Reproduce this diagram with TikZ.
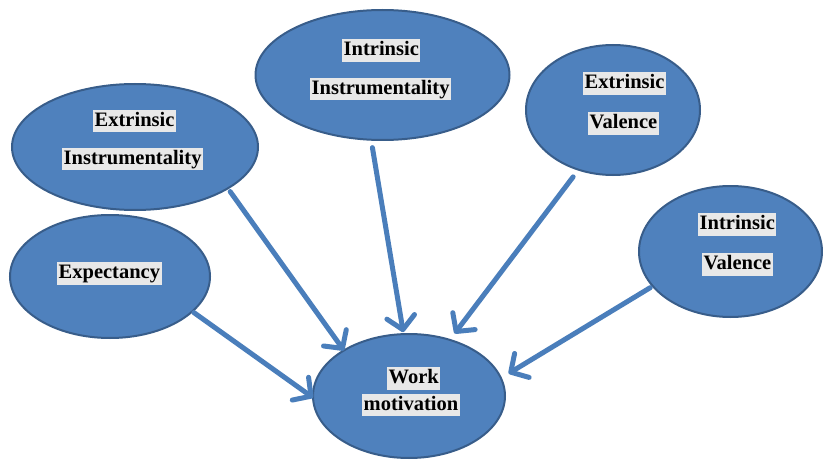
\documentclass[tikz,border=0pt]{standalone}
\usepackage{fontspec}
\setmainfont{Liberation Serif}
\usetikzlibrary{shapes.geometric,arrows.meta}
\definecolor{ellfill}{RGB}{79,129,189}
\definecolor{ellline}{RGB}{56,93,138}
\definecolor{arrcol}{RGB}{74,126,187}
\definecolor{boxgray}{RGB}{232,232,232}
\begin{document}
\begin{tikzpicture}[x=1pt,y=1pt,
 bubble/.style={ellipse, draw=ellline, fill=ellfill, line width=2pt, inner sep=0pt, outer sep=0pt},
 lbl/.style={fill=boxgray, anchor=west, inner xsep=1.5pt, inner ysep=1.5pt, text height=15pt, text depth=4.5pt, font=\bfseries\fontsize{20.5}{24}\selectfont},
 arr/.style={draw=arrcol, line width=5pt, line cap=round, -{Straight Barb[round, length=13pt, width=28pt]}}]
\useasboundingbox (0,0) rectangle (823,459);
% ellipses
\node[bubble, minimum width=246pt, minimum height=126pt] (ei) at (135,312) {};
\node[bubble, minimum width=254pt, minimum height=130pt] (ii) at (382.5,384) {};
\node[bubble, minimum width=174pt, minimum height=130pt] (ev) at (613,349) {};
\node[bubble, minimum width=183pt, minimum height=131pt] (iv) at (730.5,207.5) {};
\node[bubble, minimum width=200pt, minimum height=123pt] (ex) at (110,182.5) {};
\node[bubble, minimum width=192pt, minimum height=124pt] (wm) at (409,63) {};
% labels
\node[lbl] (ei1) at (93,338) {Extrinsic\ };
\node[lbl] (ei2) at (62,300) {Instrumentality};
\node[lbl] (ii1) at (342,408.5) {Intrinsic\ };
\node[lbl] (ii2) at (310,370) {Instrumentality};
\node[lbl] (ev1) at (583,375.5) {Extrinsic\ };
\node[lbl] (ev2) at (588,335.5) {Valence};
\node[lbl] (iv1) at (698,234.5) {Intrinsic\ };
\node[lbl] (iv2) at (702,194.5) {Valence};
\node[lbl] (ex1) at (57,185.5) {Expectancy};
\node[lbl] (wm1) at (387,80.5) {Work};
\node[lbl] (wm2) at (362,54) {motivation};
% arrows
\draw[arr, shorten <=4pt] (ei.-24) -- (wm.145);
\draw[arr, shorten <=2pt] (ex.-23) -- (wm.181);
\draw[arr, shorten <=8pt, shorten >=2pt] (ii.260) -- (wm.95);
\draw[arr, shorten <=9pt, shorten >=8pt] (ev.240) -- (wm.54);
\draw[arr, shorten <=3pt, shorten >=9pt] (iv.204) -- (wm.11);
\end{tikzpicture}
\end{document}
